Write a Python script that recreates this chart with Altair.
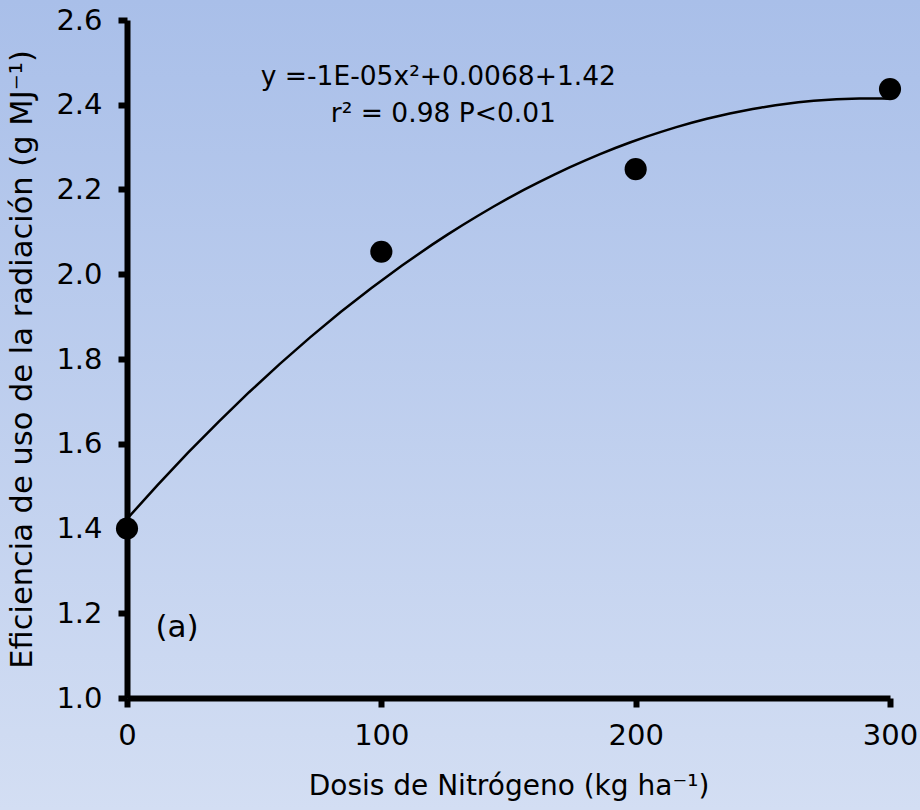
import altair as alt
import pandas as pd

# Nitrogen dose (kg/ha) and radiation use efficiency (g/MJ)
dosis = [0, 100, 200, 300]
eur = [1.40, 2.053, 2.248, 2.437]

# Equation / fit annotation
ann_text = ["y =-1E-05x²+0.0068+1.42", "r² = 0.98 P<0.01"]
ann_x = [122.4, 124.4]
ann_y = [2.466, 2.378]

# Panel label
panel_text = ["(a)"]
panel_x = [19.7]
panel_y = [1.165]

FONT = "DejaVu Sans"
W, H = 763, 678
PAD = {"left": 127, "top": 20, "right": 30, "bottom": 112}

df = pd.DataFrame({"dosis": dosis, "eur": eur})
ann = pd.DataFrame({"t": ann_text, "x": ann_x, "y": ann_y})
panel = pd.DataFrame({"t": panel_text, "x": panel_x, "y": panel_y})

xscale = alt.Scale(domain=[0, 300], nice=False)
yscale = alt.Scale(domain=[1.0, 2.6], nice=False, zero=False)

axis_common = dict(
    domainColor="black", domainWidth=6,
    tickColor="black", tickWidth=6, tickSize=9,
    labelFont=FONT, labelFontSize=29, labelColor="black", labelFlush=False,
    titleFont=FONT, titleFontWeight="normal", titleColor="black",
    grid=False, zindex=1,
)

x_enc = alt.X("dosis:Q", scale=xscale,
              axis=alt.Axis(values=[0, 100, 200, 300], labelPadding=14,
                            title="Dosis de Nitrógeno (kg ha⁻¹)", titleFontSize=28,
                            titlePadding=22, **axis_common))
y_enc = alt.Y("eur:Q", scale=yscale,
              axis=alt.Axis(values=[1.0, 1.2, 1.4, 1.6, 1.8, 2.0, 2.2, 2.4, 2.6],
                            format=".1f", labelPadding=16,
                            title="Eficiencia de uso de la radiación (g MJ⁻¹)",
                            titleFontSize=30.5, titlePadding=18, **axis_common))

# Soft vertical gradient behind the whole figure
bg = alt.Chart(pd.DataFrame({"k": [0]})).mark_rect(
    fill=alt.LinearGradient(
        gradient="linear", x1=0, y1=0, x2=0, y2=1,
        stops=[alt.GradientStop(color="#a9bfe9", offset=0),
               alt.GradientStop(color="#d3def3", offset=1)],
    ),
).encode(
    x=alt.value(-PAD["left"]), x2=alt.value(W + PAD["right"]),
    y=alt.value(-PAD["top"]), y2=alt.value(H + PAD["bottom"]),
)

fit = alt.Chart(df).transform_regression(
    "dosis", "eur", method="poly", order=2, extent=[0, 300]
).mark_line(color="black", strokeWidth=2.5).encode(x=x_enc, y=y_enc)

pts = alt.Chart(df).mark_circle(color="black", opacity=1, size=490).encode(
    x=alt.X("dosis:Q", scale=xscale),
    y=alt.Y("eur:Q", scale=yscale),
)

ann_layer = alt.Chart(ann).mark_text(
    font=FONT, fontSize=26.5, color="black", align="center", baseline="middle"
).encode(x=alt.X("x:Q", scale=xscale), y=alt.Y("y:Q", scale=yscale), text="t:N")

panel_layer = alt.Chart(panel).mark_text(
    font=FONT, fontSize=31, color="black", align="center", baseline="middle"
).encode(x=alt.X("x:Q", scale=xscale), y=alt.Y("y:Q", scale=yscale), text="t:N")

chart = alt.layer(bg, fit, pts, ann_layer, panel_layer).properties(
    width=W, height=H,
    autosize=alt.AutoSizeParams(type="none"),
    padding=PAD,
).configure_view(stroke=None)

chart.save("out.html", embed_options={"renderer": "svg", "actions": False})
